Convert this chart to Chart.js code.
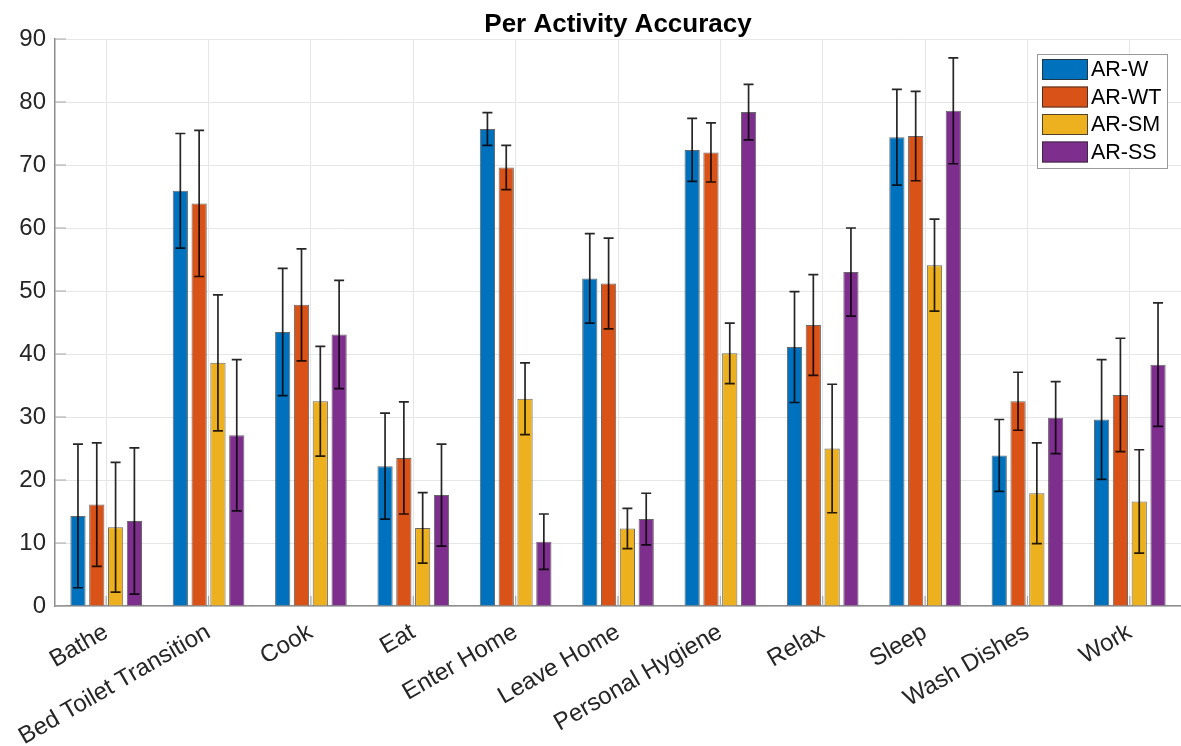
<!DOCTYPE html>
<html>
<head>
<meta charset="utf-8">
<script src="https://cdn.jsdelivr.net/npm/chart.js@4"></script>
<style>
  html, body { margin: 0; padding: 0; background: #fff; overflow: hidden; }
  #wrap { width: 1181px; height: 746px; }
</style>
</head>
<body>
<div id="wrap"><canvas id="chart" width="1181" height="746"></canvas></div>
<script>
// categories
const activities = ['Bathe', 'Bed Toilet Transition', 'Cook', 'Eat', 'Enter Home', 'Leave Home',
  'Personal Hygiene', 'Relax', 'Sleep', 'Wash Dishes', 'Work']
const seriesNames = ['AR-W', 'AR-WT', 'AR-SM', 'AR-SS']

// mean accuracy per series
const arW  = [14.3, 65.9, 43.5, 22.2, 75.7, 52.0, 72.4, 41.1, 74.4, 23.9, 29.6]
const arWT = [16.1, 63.9, 47.8, 23.5, 69.6, 51.2, 72.0, 44.6, 74.6, 32.5, 33.5]
const arSM = [12.5, 38.6, 32.5, 12.4, 32.9, 12.3, 40.1, 25.0, 54.1, 17.9, 16.6]
const arSS = [13.5, 27.1, 43.1, 17.6, 10.2, 13.8, 78.4, 53.0, 78.6, 29.9, 38.3]

// +/- error per series
const arWErr  = [11.4, 9.1, 10.1, 8.4, 2.6, 7.1, 5.0, 8.8, 7.6, 5.7, 9.5]
const arWTErr = [9.8, 11.6, 8.9, 8.9, 3.5, 7.2, 4.7, 8.0, 7.1, 4.6, 9.0]
const arSMErr = [10.3, 10.8, 8.7, 5.6, 5.7, 3.2, 4.8, 10.2, 7.3, 8.0, 8.2]
const arSSErr = [11.6, 12.0, 8.6, 8.1, 4.4, 4.1, 4.4, 7.0, 8.4, 5.7, 9.8]

const yTicks = [0, 10, 20, 30, 40, 50, 60, 70, 80, 90]

const FONT = '"Liberation Sans", Arial, Helvetica, sans-serif'
const colors = ['#0072BD', '#D95319', '#EDB120', '#7E2F8E']
const values = [arW, arWT, arSM, arSS]
const errors = [arWErr, arWTErr, arSMErr, arSSErr]

// short inward tick marks, like MATLAB axes
const innerTicks = {
	id: 'innerTicks',
	beforeDatasetsDraw(chart) {
		const ctx = chart.ctx
		const { x, y } = chart.scales
		const area = chart.chartArea
		ctx.save()
		ctx.strokeStyle = '#a6a6a6'
		ctx.lineWidth = 1.2
		ctx.beginPath()
		x.ticks.forEach((t, i) => {
			const px = x.getPixelForTick(i)
			ctx.moveTo(px, area.bottom); ctx.lineTo(px, area.bottom - 10)
		})
		y.ticks.forEach((t, i) => {
			const py = y.getPixelForTick(i)
			ctx.moveTo(area.left, py); ctx.lineTo(area.left + 11, py)
		})
		ctx.stroke()
		ctx.restore()
	}
}

// error bars drawn from the y scale
const errorBars = {
	id: 'errorBars',
	afterDatasetsDraw(chart) {
		const ctx = chart.ctx
		const y = chart.scales.y
		ctx.save()
		ctx.strokeStyle = 'rgba(0,0,0,0.85)'
		ctx.lineWidth = 1.7
		chart.data.datasets.forEach((ds, i) => {
			const meta = chart.getDatasetMeta(i)
			meta.data.forEach((bar, j) => {
				const v = ds.data[j], e = ds.errors[j]
				const top = y.getPixelForValue(v + e)
				const bot = y.getPixelForValue(v - e)
				const cap = 5
				ctx.beginPath()
				ctx.moveTo(bar.x, top); ctx.lineTo(bar.x, bot)
				ctx.moveTo(bar.x - cap, top); ctx.lineTo(bar.x + cap, top)
				ctx.moveTo(bar.x - cap, bot); ctx.lineTo(bar.x + cap, bot)
				ctx.stroke()
			})
		})
		ctx.restore()
	}
}

// title over the axes and MATLAB-like legend box
const decorations = {
	id: 'decorations',
	afterDraw(chart) {
		const ctx = chart.ctx
		ctx.save()
		ctx.fillStyle = '#000'
		ctx.font = 'bold 26px ' + FONT
		ctx.textAlign = 'center'
		ctx.textBaseline = 'alphabetic'
		ctx.fillText('Per Activity Accuracy', 618, 32)

		const lx = 1037, ly = 54, lw = 130, lh = 114
		ctx.fillStyle = '#fff'
		ctx.fillRect(lx, ly, lw, lh)
		ctx.strokeStyle = '#9a9a9a'
		ctx.lineWidth = 1
		ctx.strokeRect(lx + 0.5, ly + 0.5, lw, lh)
		ctx.font = '21.5px ' + FONT
		ctx.textAlign = 'left'
		ctx.textBaseline = 'middle'
		chart.data.datasets.forEach((ds, i) => {
			const ry = ly + 5 + i * 27.5
			ctx.fillStyle = ds.backgroundColor
			ctx.fillRect(lx + 5, ry, 46, 21)
			ctx.strokeStyle = 'rgba(40,40,40,0.8)'
			ctx.strokeRect(lx + 5.5, ry + 0.5, 45, 20)
			ctx.fillStyle = '#000'
			ctx.fillText(ds.label, lx + 54, ry + 11.5)
		})
		ctx.restore()
	}
}

new Chart(document.getElementById('chart'), {
	type: 'bar',
	data: {
		labels: activities,
		datasets: seriesNames.map((name, i) => ({
			label: name,
			data: values[i],
			errors: errors[i],
			backgroundColor: colors[i],
			borderColor: 'rgba(40,40,40,0.7)',
			borderWidth: 1,
			categoryPercentage: 0.735,
			barPercentage: 0.81
		}))
	},
	options: {
		responsive: false,
		animation: false,
		layout: { padding: { top: 39, left: 0, right: 0, bottom: 0 } },
		plugins: {
			legend: { display: false },
			title: { display: false },
			tooltip: { enabled: false }
		},
		scales: {
			x: {
				offset: true,
				grid: { offset: false, color: '#e6e6e6', lineWidth: 1, drawTicks: false },
				border: { display: true, color: '#8c8c8c', width: 1.5 },
				ticks: {
					autoSkip: false, minRotation: 30, maxRotation: 30, padding: 12,
					color: '#262626', font: { family: FONT, size: 24 }
				},
				afterFit: s => { s.height = 140 }
			},
			y: {
				min: 0, max: 90,
				afterBuildTicks: s => { s.ticks = yTicks.map(v => ({ value: v })) },
				grid: { color: '#e6e6e6', lineWidth: 1, drawTicks: false },
				border: { display: true, color: '#8c8c8c', width: 1.5 },
				ticks: { padding: 9, color: '#262626', font: { family: FONT, size: 24 } },
				afterFit: s => { s.width = 55 }
			}
		}
	},
	plugins: [innerTicks, errorBars, decorations]
})
</script>
</body>
</html>
